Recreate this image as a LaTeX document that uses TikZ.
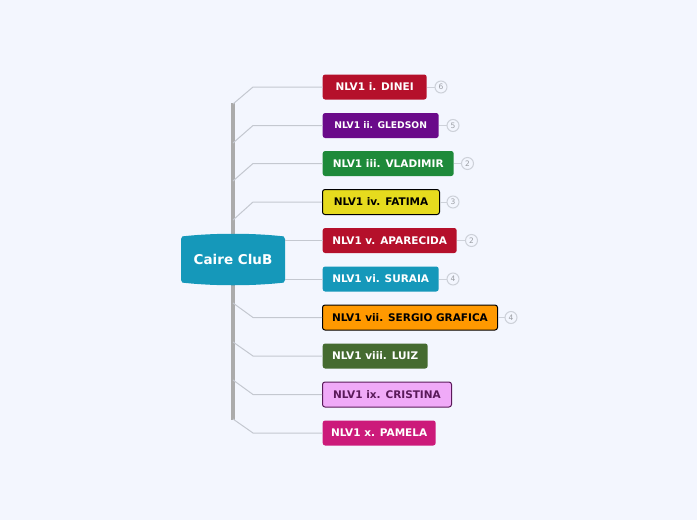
\documentclass[tikz,border=0pt]{standalone}
\usepackage{fontspec}
\setmainfont{DejaVu Sans}
\definecolor{bg}{HTML}{F3F6FE}
\definecolor{trunkc}{HTML}{ABABAB}
\definecolor{branchc}{HTML}{C4C8D0}
\definecolor{teal}{HTML}{1598BA}
\definecolor{cred}{HTML}{B5102B}
\definecolor{cpurple}{HTML}{6A0A8A}
\definecolor{cgreen}{HTML}{1E8A3A}
\definecolor{cyellow}{HTML}{E6DB1E}
\definecolor{corange}{HTML}{FF9900}
\definecolor{cdgreen}{HTML}{456B30}
\definecolor{cpink}{HTML}{F0AAF8}
\definecolor{cpinkb}{HTML}{5A1A5A}
\definecolor{cmag}{HTML}{CC1A7A}
\definecolor{badgec}{HTML}{CDD1D9}
\begin{document}
\begin{tikzpicture}[x=1pt,y=-1pt,
  leaf/.style={rectangle, rounded corners=2.5pt, minimum height=25pt, inner xsep=0pt, anchor=west,
    text=white, font=\fontsize{10.5}{12.5}\selectfont\bfseries},
  dleaf/.style={leaf, draw=black, line width=1pt, text=black},
  trunk/.style={draw=trunkc, line width=4pt},
  branch/.style={draw=branchc, line width=1pt},
  badge/.style={circle, draw=badgec, line width=1pt, minimum size=12pt, inner sep=0pt,
    text=badgec!75!black, font=\fontsize{7.5}{8}\selectfont},
  cline/.style={draw=badgec, line width=1pt}]
\useasboundingbox (0,0) rectangle (697,520);
\fill[bg] (0,0) rectangle (697,520);

% trunk
\coordinate (ttop) at (233,103);
\coordinate (ctop) at (233,234);
\coordinate (cbot) at (233,285);
\coordinate (tbot) at (233,420);
\draw[trunk] (ttop) -- (ctop);
\draw[trunk] (cbot) -- (tbot);

% central node
\fill[teal] (181,239) .. controls (181,236) and (183,236) .. (186,236)
  .. controls (215,233) and (251,233) .. (280,236)
  .. controls (283,236) and (285,236) .. (285,239)
  -- (285,280) .. controls (285,283) and (283,283) .. (280,283)
  .. controls (251,286) and (215,286) .. (186,283)
  .. controls (183,283) and (181,283) .. (181,280) -- cycle;
\node[text=white, font=\fontsize{13.5}{15}\selectfont\bfseries] (c) at (233,259.5) {Caire CluB};

% leaves
\node[leaf, fill=cred, minimum width=104pt] (n1) at (322.5,87) {NLV1 i. DINEI};
\node[leaf, fill=cpurple, minimum width=116pt, font=\fontsize{9.2}{10}\selectfont\bfseries] (n2) at (322.5,125.5) {NLV1 ii. GLEDSON};
\node[leaf, fill=cgreen, minimum width=131pt] (n3) at (322.5,163.5) {NLV1 iii. VLADIMIR};
\node[dleaf, fill=cyellow, minimum width=117pt] (n4) at (322,202) {NLV1 iv. FATIMA};
\node[leaf, fill=cred, minimum width=134pt] (n5) at (322.5,240.5) {NLV1 v. APARECIDA};
\node[leaf, fill=teal, minimum width=116pt] (n6) at (322.5,279) {NLV1 vi. SURAIA};
\node[dleaf, fill=corange, minimum width=175pt] (n7) at (322,317.5) {NLV1 vii. SERGIO GRAFICA};
\node[leaf, fill=cdgreen, minimum width=105pt] (n8) at (322.5,356) {NLV1 viii. LUIZ};
\node[dleaf, fill=cpink, draw=cpinkb, text=cpinkb, minimum width=129pt] (n9) at (322,394.5) {NLV1 ix. CRISTINA};
\node[leaf, fill=cmag, minimum width=113pt] (n10) at (322.5,433) {NLV1 x. PAMELA};

% branch bends
\coordinate (t1) at (233,104); \coordinate (k1) at (253,87);
\coordinate (t2) at (233,143); \coordinate (k2) at (253,125.5);
\coordinate (t3) at (233,181); \coordinate (k3) at (253,163.5);
\coordinate (t4) at (233,220); \coordinate (k4) at (253,202);
\coordinate (t7) at (233,303); \coordinate (k7) at (253,317.5);
\coordinate (t8) at (233,342); \coordinate (k8) at (253,356);
\coordinate (t9) at (233,380); \coordinate (k9) at (253,394.5);
\coordinate (t10) at (233,419); \coordinate (k10) at (253,433);
\coordinate (c5) at (285,240.5);
\coordinate (c6) at (285,279);

\draw[branch] (t1) -- (k1) -- (n1.west);
\draw[branch] (t2) -- (k2) -- (n2.west);
\draw[branch] (t3) -- (k3) -- (n3.west);
\draw[branch] (t4) -- (k4) -- (n4.west);
\draw[branch] (c5) -- (n5.west);
\draw[branch] (c6) -- (n6.west);
\draw[branch] (t7) -- (k7) -- (n7.west);
\draw[branch] (t8) -- (k8) -- (n8.west);
\draw[branch] (t9) -- (k9) -- (n9.west);
\draw[branch] (t10) -- (k10) -- (n10.west);

% badges
\node[badge] (b1) at (441,87) {6};
\node[badge] (b2) at (453,125.5) {5};
\node[badge] (b3) at (467.5,163.5) {2};
\node[badge] (b4) at (453,202) {3};
\node[badge] (b5) at (471.5,240.5) {2};
\node[badge] (b6) at (453,279) {4};
\node[badge] (b7) at (511,317.5) {4};
\draw[cline] (n1.east) -- (b1);
\draw[cline] (n2.east) -- (b2);
\draw[cline] (n3.east) -- (b3);
\draw[cline] (n4.east) -- (b4);
\draw[cline] (n5.east) -- (b5);
\draw[cline] (n6.east) -- (b6);
\draw[cline] (n7.east) -- (b7);
\end{tikzpicture}
\end{document}
